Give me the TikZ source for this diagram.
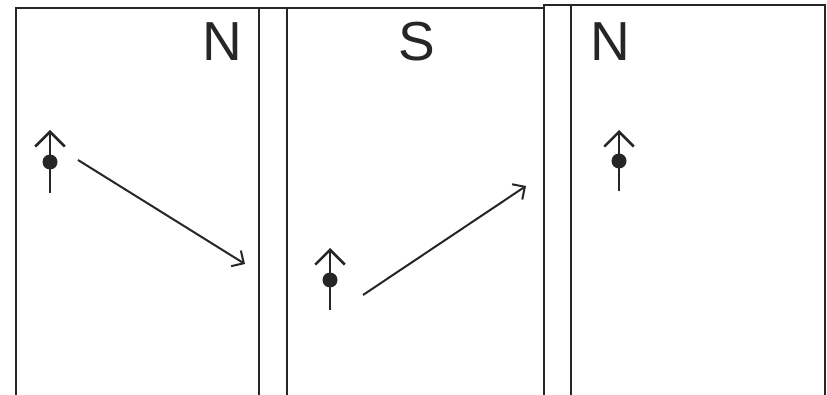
\documentclass[tikz,border=0pt]{standalone}
\usepackage{fontspec}
\setmainfont{Liberation Sans}
\usetikzlibrary{arrows.meta}
\begin{document}
\begin{tikzpicture}[x=1pt,y=-1pt,
  wall/.style={line width=2.5pt, draw=black!85},
  pole/.style={font=\fontsize{55}{55}\selectfont, anchor=base, inner sep=0pt, text=black!85},
  needle/.style={line width=2.5pt, draw=black!85, -{Straight Barb[angle=90:21pt, line width=2.5pt]}},
  path/.style={line width=2pt, draw=black!85, -{Straight Barb[angle=90:13pt, line width=2pt]}},
  dotmark/.style={circle, fill=black!85, inner sep=0pt, minimum size=15pt}]
\useasboundingbox (0,0) rectangle (827,395);
% magnet walls
\draw[wall] (16,395) -- (16,8) -- (544,8);
\draw[wall] (259,8) -- (259,395);
\draw[wall] (287,8) -- (287,395);
\draw[wall] (544,395) -- (544,5) -- (825,5) -- (825,395);
\draw[wall] (571,5) -- (571,395);
% pole labels
\node[pole] (p1) at (222,61) {N};
\node[pole] (p2) at (417,61) {S};
\node[pole] (p3) at (610,61) {N};
% compass needles
\coordinate (c1b) at (50,193); \coordinate (c1t) at (50,130);
\draw[needle] (c1b) -- (c1t);
\node[dotmark] (d1) at (50,162) {};
\coordinate (c2b) at (330,310); \coordinate (c2t) at (330,248);
\draw[needle] (c2b) -- (c2t);
\node[dotmark] (d2) at (330,280) {};
\coordinate (c3b) at (619,191); \coordinate (c3t) at (619,130);
\draw[needle] (c3b) -- (c3t);
\node[dotmark] (d3) at (619,161) {};
% motion arrows
\coordinate (a1s) at (78,160); \coordinate (a1e) at (245,264);
\draw[path] (a1s) -- (a1e);
\coordinate (a2s) at (363,295); \coordinate (a2e) at (526,186);
\draw[path] (a2s) -- (a2e);
\end{tikzpicture}
\end{document}
